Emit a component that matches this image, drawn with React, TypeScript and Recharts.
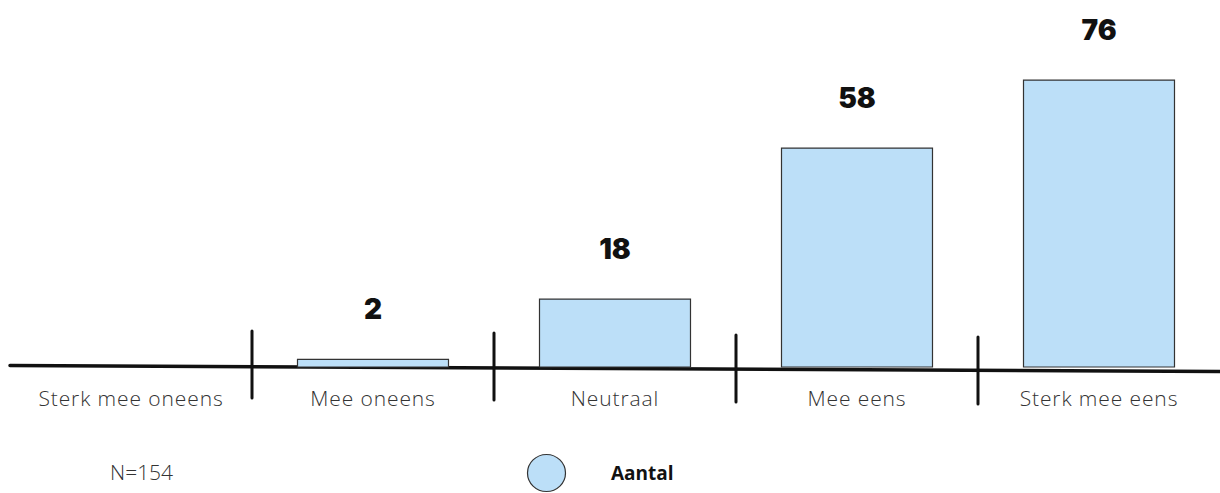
import * as React from "react"
import { Bar, BarChart, LabelList, XAxis, YAxis } from "recharts"

const categories = ["Sterk mee oneens", "Mee oneens", "Neutraal", "Mee eens", "Sterk mee eens"]
const aantal = [0, 2, 18, 58, 76]
const seriesName = "Aantal"
const sampleNote = "N=154"

const data = categories.map((name, i) => ({ name, aantal: aantal[i] }))

const W = 1220
const H = 493
const M = { top: 65, right: 0, bottom: 96, left: 10 }
const AXIS_H = 30
const baseY = H - M.bottom - AXIS_H
const band = (W - M.left - M.right) / categories.length

const FILL = "#bcdff8"
const INK = "#111"

function CategoryTick(props: any) {
    const { x, y, payload } = props
    return (
        <text
            x={x}
            y={y}
            dy={31}
            textAnchor="middle"
            fontFamily="'Open Sans', sans-serif"
            fontWeight={300}
            fontSize={21}
            letterSpacing={0.9}
            fill="#333"
        >
            {payload.value}
        </text>
    )
}

function ValueLabel(props: any) {
    const { x, y, width, value } = props
    if (!value) return null
    return (
        <text
            x={x + width / 2}
            y={y - 50}
            textAnchor="middle"
            dominantBaseline="central"
            fontFamily="Inter, sans-serif"
            fontWeight={900}
            fontSize={28}
            fill={INK}
        >
            {value}
        </text>
    )
}

export default function App() {
    // separators sit on the band edges, a little uneven like the original
    const seps = categories.slice(1).map((_, i) => M.left + band * (i + 1))

    return (
        <div style={{ position: "absolute", left: 0, top: 0, width: W, height: H, background: "#fff" }}>
            <BarChart width={W} height={H} data={data} margin={M} barCategoryGap="18.8%">
                <YAxis hide domain={[0, 80]} />
                <XAxis
                    dataKey="name"
                    height={AXIS_H}
                    axisLine={false}
                    tickLine={false}
                    interval={0}
                    tick={<CategoryTick />}
                />
                <Bar
                    dataKey="aantal"
                    fill={FILL}
                    stroke="#333"
                    strokeWidth={1.2}
                    isAnimationActive={false}
                >
                    <LabelList dataKey="aantal" content={<ValueLabel />} />
                </Bar>
                <g>
                    <line
                        x1={M.left}
                        y1={baseY - 1.5}
                        x2={W}
                        y2={baseY + 4.5}
                        stroke={INK}
                        strokeWidth={3.5}
                        strokeLinecap="round"
                    />
                    {seps.map((sx, i) => (
                        <line
                            key={i}
                            x1={sx}
                            y1={baseY - 36 + i * 2}
                            x2={sx}
                            y2={baseY + 31 + i * 2}
                            stroke={INK}
                            strokeWidth={3}
                            strokeLinecap="round"
                        />
                    ))}
                    <text
                        x={110}
                        y={472}
                        dominantBaseline="central"
                        fontFamily="'Open Sans', sans-serif"
                        fontWeight={300}
                        fontSize={21}
                        fill="#333"
                    >
                        {sampleNote}
                    </text>
                    <ellipse cx={546.5} cy={473} rx={19} ry={18.5} fill={FILL} stroke="#333" strokeWidth={1.2} />
                    <text
                        x={611}
                        y={473}
                        dominantBaseline="central"
                        fontFamily="'Open Sans', sans-serif"
                        fontWeight={700}
                        fontSize={19}
                        fill={INK}
                    >
                        {seriesName}
                    </text>
                </g>
            </BarChart>
        </div>
    )
}
